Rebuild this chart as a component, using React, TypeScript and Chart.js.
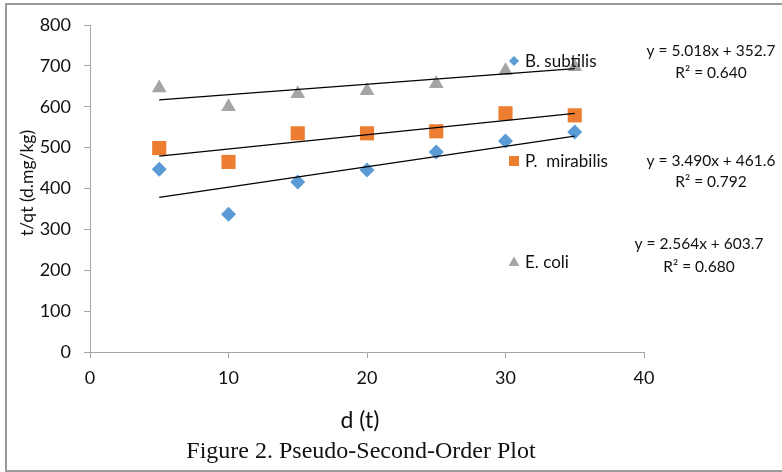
import React, { useEffect, useRef } from 'react';
import { Chart, registerables } from 'chart.js';

Chart.register(...registerables);

// ---- data ----
const xValues = [5, 10, 15, 20, 25, 30, 35];
const bSubtilis = [447, 337, 416, 445, 489, 516, 538];
const pMirabilis = [499, 465, 535, 535, 540, 584, 579];
const eColi = [646, 600, 632, 639, 656, 688, 698];

const trendX = [5, 35];
const bTrend = [378, 528];
const pTrend = [479, 584];
const eTrend = [617, 693];

const seriesNames = ['B. subtilis', 'P.  mirabilis', 'E. coli'];
const equations = ['y = 5.018x + 352.7', 'y = 3.490x + 461.6', 'y = 2.564x + 603.7'];
const rSquared = ['R² = 0.640', 'R² = 0.792', 'R² = 0.680'];

const xAxisTitle = 'd (t)';
const yAxisTitle = 't/qt (d.mg/kg)';
const caption = 'Figure 2. Pseudo-Second-Order Plot';

const BLUE = '#5B9BD5';
const ORANGE = '#ED7D31';
const GRAY = '#A5A5A5';
const AXIS = '#A6A6A6';
const SANS = 'Lato, "Open Sans", sans-serif';

function pts(xs: number[], ys: number[]) {
  return xs.map((x, i) => ({ x, y: ys[i] }));
}

function drawMarker(ctx: CanvasRenderingContext2D, kind: string, x: number, y: number, color: string) {
  ctx.save();
  ctx.fillStyle = color;
  ctx.beginPath();
  if (kind === 'diamond') {
    const r = 5;
    ctx.moveTo(x, y - r);
    ctx.lineTo(x + r, y);
    ctx.lineTo(x, y + r);
    ctx.lineTo(x - r, y);
    ctx.closePath();
  } else if (kind === 'square') {
    ctx.rect(x - 5, y - 5, 10, 10);
  } else {
    ctx.moveTo(x, y - 5.5);
    ctx.lineTo(x + 5.5, y + 4);
    ctx.lineTo(x - 5.5, y + 4);
    ctx.closePath();
  }
  ctx.fill();
  ctx.restore();
}

const extrasPlugin = {
  id: 'extras',
  afterDraw(chart: any) {
    const ctx: CanvasRenderingContext2D = chart.ctx;
    ctx.save();
    // outer frame
    ctx.strokeStyle = '#9A9A9A';
    ctx.lineWidth = 2;
    ctx.strokeRect(6, 4, 820, 467);

    ctx.fillStyle = '#111';
    // y axis title
    ctx.save();
    ctx.translate(27, 183);
    ctx.rotate(-Math.PI / 2);
    ctx.font = `17.5px ${SANS}`;
    ctx.textAlign = 'center';
    ctx.textBaseline = 'middle';
    ctx.fillText(yAxisTitle, 0, 0);
    ctx.restore();

    // x axis title
    ctx.font = `23px ${SANS}`;
    ctx.textAlign = 'center';
    ctx.textBaseline = 'alphabetic';
    ctx.fillText(xAxisTitle, 360, 428);

    // caption
    ctx.font = '24px "Liberation Serif", "Times New Roman", serif';
    ctx.fillText(caption, 361, 458);

    // inline legend
    const legendY = [61, 161, 262];
    const kinds = ['diamond', 'square', 'triangle'];
    const colors = [BLUE, ORANGE, GRAY];
    ctx.font = `17px ${SANS}`;
    ctx.textAlign = 'left';
    ctx.textBaseline = 'middle';
    for (let i = 0; i < 3; i++) {
      drawMarker(ctx, kinds[i], 514, legendY[i], colors[i]);
      ctx.fillStyle = '#111';
      ctx.fillText(seriesNames[i], 525, legendY[i] + 1);
    }

    // equations
    const eqPos = [
      [711, 51, 73],
      [711, 161, 182],
      [699, 244, 267],
    ];
    ctx.font = `15.5px ${SANS}`;
    ctx.textAlign = 'center';
    for (let i = 0; i < 3; i++) {
      const [cx, y1, y2] = eqPos[i];
      ctx.fillText(equations[i], cx, y1);
      ctx.fillText(rSquared[i], cx, y2);
    }
    ctx.restore();
  },
};

export default function App() {
  const ref = useRef<HTMLCanvasElement | null>(null);
  useEffect(() => {
    if (!ref.current) return;
    const trend = (ys: number[]) =>
      ({
        type: 'line',
        data: pts(trendX, ys),
        borderColor: '#000',
        borderWidth: 1.25,
        pointRadius: 0,
        order: 0,
      } as any);
    const chart = new Chart(ref.current, {
      type: 'scatter',
      data: {
        datasets: [
          trend(bTrend),
          trend(pTrend),
          trend(eTrend),
          {
            label: seriesNames[0],
            data: pts(xValues, bSubtilis),
            pointStyle: 'rectRot',
            pointRadius: 7.5,
            backgroundColor: BLUE,
            borderColor: BLUE,
            borderWidth: 0,
            order: 1,
          },
          {
            label: seriesNames[1],
            data: pts(xValues, pMirabilis),
            pointStyle: 'rect',
            pointRadius: 10,
            backgroundColor: ORANGE,
            borderColor: ORANGE,
            borderWidth: 0,
            order: 1,
          },
          {
            label: seriesNames[2],
            data: pts(xValues, eColi),
            pointStyle: 'triangle',
            pointRadius: 8.5,
            backgroundColor: GRAY,
            borderColor: GRAY,
            borderWidth: 0,
            order: 1,
          },
        ],
      },
      options: {
        responsive: false,
        animation: false,
        devicePixelRatio: 1,
        layout: { padding: { left: 0, right: 138, top: 25, bottom: 0 } },
        plugins: {
          legend: { display: false },
          title: { display: false },
          tooltip: { enabled: false },
        },
        scales: {
          x: {
            type: 'linear',
            min: 0,
            max: 40,
            ticks: {
              stepSize: 10,
              padding: 9,
              color: '#111',
              font: { family: SANS, size: 18 },
            },
            grid: {
              display: true,
              drawOnChartArea: false,
              drawTicks: true,
              tickLength: 6,
              color: AXIS,
            },
            border: { display: true, color: AXIS, width: 1 },
            afterFit: (s: any) => {
              s.height = 120;
            },
          },
          y: {
            type: 'linear',
            min: 0,
            max: 800,
            ticks: {
              stepSize: 100,
              padding: 13,
              color: '#111',
              font: { family: SANS, size: 18 },
            },
            grid: {
              display: true,
              drawOnChartArea: false,
              drawTicks: true,
              tickLength: 6,
              color: AXIS,
            },
            border: { display: true, color: AXIS, width: 1 },
            afterFit: (s: any) => {
              s.width = 90;
            },
          },
        },
      },
      plugins: [extrasPlugin],
    });
    return () => chart.destroy();
  }, []);

  return (
    <div style={{ position: 'fixed', left: 0, top: 0, width: 782, height: 472, background: '#fff' }}>
      <canvas ref={ref} width={782} height={472} style={{ display: 'block', width: 782, height: 472 }} />
    </div>
  );
}
